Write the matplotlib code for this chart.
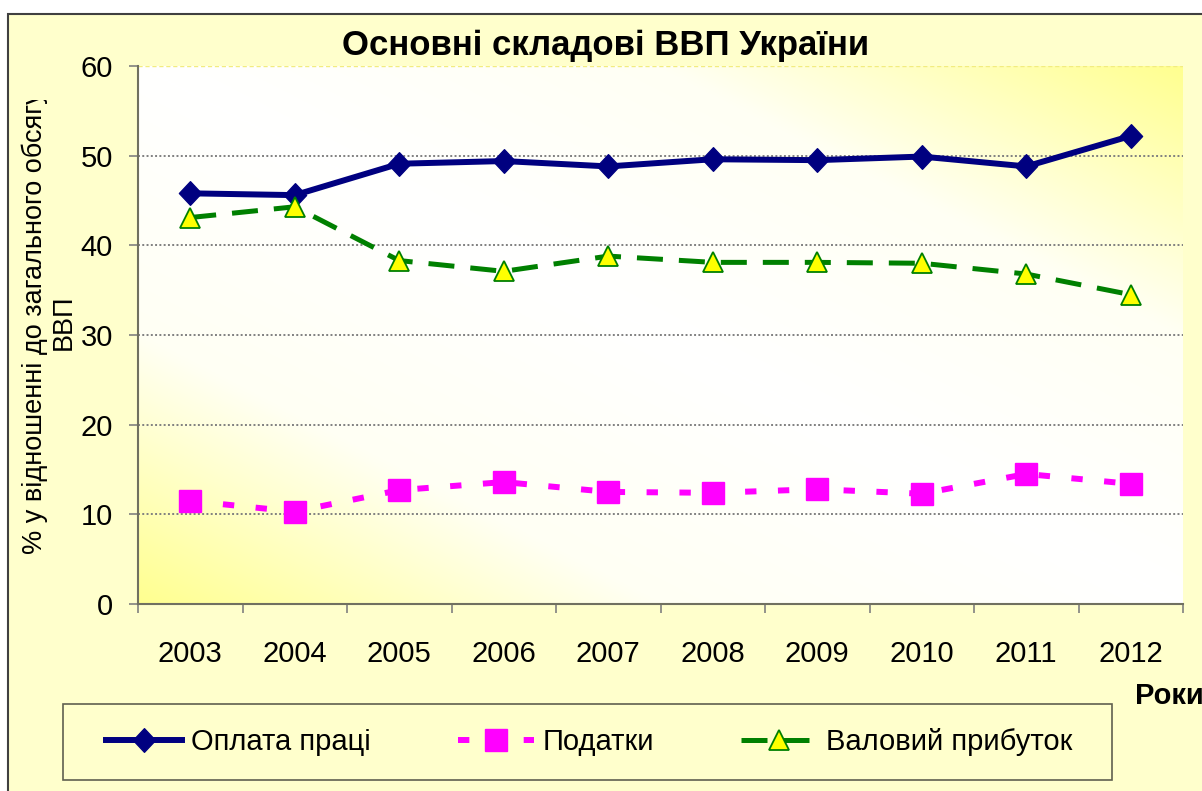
import numpy as np
import matplotlib
matplotlib.use('Agg')
import matplotlib.pyplot as plt
from matplotlib.patches import Rectangle
from matplotlib.path import Path
from matplotlib.transforms import Bbox, TransformedBbox
from matplotlib.colors import LinearSegmentedColormap

# --- data ---
years = ['2003', '2004', '2005', '2006', '2007', '2008', '2009', '2010', '2011', '2012']
wages = [45.8, 45.6, 49.1, 49.4, 48.8, 49.6, 49.5, 49.9, 48.8, 52.2]
taxes = [11.5, 10.3, 12.7, 13.6, 12.5, 12.4, 12.8, 12.3, 14.5, 13.4]
profit = [43.1, 44.3, 38.3, 37.1, 38.8, 38.1, 38.1, 38.0, 36.8, 34.5]
grid_levels = [10, 20, 30, 40, 50]

plt.rcParams['font.family'] = ['Liberation Sans', 'DejaVu Sans']

W, H = 1202, 791
fig = plt.figure(figsize=(W / 100, H / 100), dpi=100)
fig.patch.set_facecolor('white')

# chart area frame (cut off at right and bottom like the reference)
fig.add_artist(Rectangle((8 / W, -0.2), 1.5, (H - 14) / H + 0.2, transform=fig.transFigure,
                         facecolor='#FFFFCC', edgecolor='#404040', lw=1.5, zorder=-5))

ax = fig.add_axes([138 / W, (H - 604) / H, (1183 - 138) / W, (604 - 66) / H])
ax.patch.set_alpha(0)

# diagonal yellow-white-yellow gradient of the plot area
u, v = np.meshgrid(np.linspace(0, 1, 300), np.linspace(0, 1, 300))
shade = np.abs(u + v - 1)
cmap = LinearSegmentedColormap.from_list('bg', ['#FFFFFF', '#FFFFF4', '#FFFF90'])
ax.imshow(shade, cmap=cmap, extent=[0, 1, 0, 1], transform=ax.transAxes,
          origin='lower', aspect='auto', zorder=0, interpolation='bilinear')

x = np.arange(1, len(years) + 1)

for g in grid_levels:
    ax.axhline(g, color='#808080', lw=1.4, ls=(0, (1, 1.2)), zorder=1)
ax.axhline(60, color='#F2EC80', lw=1.0, ls=(0, (3, 2)), zorder=1)

diamond = Path([(0, 0.5), (0.47, 0), (0, -0.5), (-0.47, 0), (0, 0.5)], closed=True)

ax.plot(x, wages, color='#000080', lw=4.3, marker=diamond, ms=17,
        label='Оплата праці', zorder=4)
ax.plot(x, taxes, color='#FF00FF', lw=4.3, dashes=(1.9, 3.6), marker='s', ms=15.5,
        label='Податки', zorder=3)
ax.plot(x, profit, color='#008000', lw=3.6, dashes=(5.2, 3.2), marker='^', ms=14,
        mfc='#FFFF00', mec='#008000', mew=1.3, label='Валовий прибуток', zorder=5)

ax.set_xlim(0.5, len(years) + 0.5)
ax.set_ylim(0, 60)
ax.set_yticks(range(0, 61, 10))
ax.set_xticks(x, years)
ax.set_xticks(np.arange(0.5, len(years) + 1, 1), minor=True)

ax.tick_params(axis='y', length=6.5, width=1.2, color='#808080', pad=11.5, labelsize=21)
ax.tick_params(axis='x', which='major', length=0, pad=26, labelsize=21)
ax.tick_params(axis='x', which='minor', length=6.5, width=1.2, color='#808080')

for side in ['top', 'right']:
    ax.spines[side].set_visible(False)
for side in ['left', 'bottom']:
    ax.spines[side].set_color('#707060')
    ax.spines[side].set_linewidth(1.5)

# title and axis captions
fig.text(606 / W, (H - 46) / H, 'Основні складові ВВП України', fontsize=25,
         fontweight='bold', ha='center', va='center')

ylab = fig.text(49 / W, (H - 322) / H, '% у відношенні до загального обсягу\nВВП',
                rotation=90, ha='center', va='center', multialignment='center',
                fontsize=19.5, linespacing=1.15)
ylab.set_clip_box(TransformedBbox(Bbox([[0, 0], [1, (H - 100) / H]]), fig.transFigure))
ylab.set_clip_on(True)

fig.text(1135 / W, (H - 696) / H, 'Роки', fontsize=21, fontweight='bold',
         ha='left', va='center')

# legend
fig.add_artist(Rectangle((63 / W, (H - 780) / H), (1112 - 63) / W, (780 - 704) / H,
                         transform=fig.transFigure, fill=False, edgecolor='#606050', lw=1.2))
handles, labels = ax.get_legend_handles_labels()
fig.legend(handles, labels, loc='center left', bbox_to_anchor=(106 / W, (H - 742) / H),
           ncol=3, frameon=False, fontsize=21, handlelength=2.6, handletextpad=0.3,
           columnspacing=3.0, borderpad=0, borderaxespad=0)

fig.savefig('out.png', dpi=100)
